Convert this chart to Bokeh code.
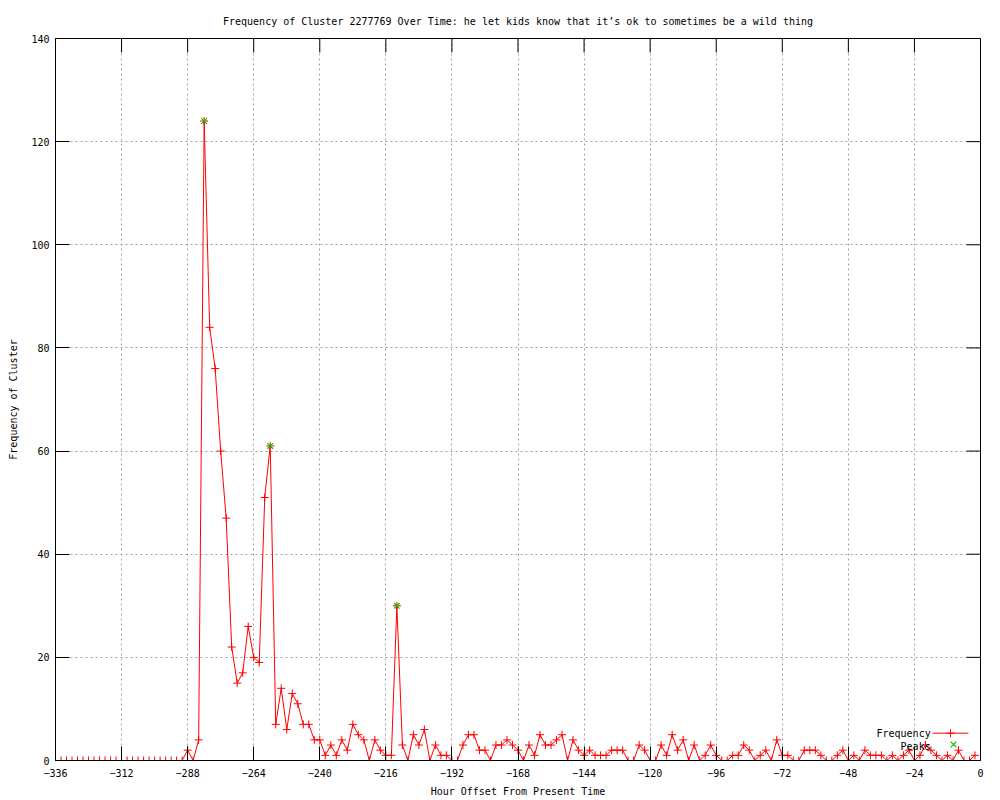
from bokeh.plotting import figure
from bokeh.models import Range1d, FixedTicker
from bokeh.core.properties import value
from bokeh.embed import file_html
from bokeh.resources import INLINE

TITLE = "Frequency of Cluster 2277769 Over Time: he let kids know that it\u2019s ok to sometimes be a wild thing"
X_LABEL = "Hour Offset From Present Time"
Y_LABEL = "Frequency of Cluster"

# hours (2-hour bins) from -336 to -2
hours = list(range(-336, 0, 2))
frequency = [
    0, 0, 0, 0, 0, 0, 0, 0, 0, 0, 0, 0,          # -336 .. -314
    0, 0, 0, 0, 0, 0, 0, 0, 0, 0, 0, 0,          # -312 .. -290
    2, 0, 4, 124, 84, 76, 60, 47, 22, 15, 17, 26,  # -288 .. -266
    20, 19, 51, 61, 7, 14, 6, 13, 11, 7, 7, 4,     # -264 .. -242
    4, 1, 3, 1, 4, 2, 7, 5, 4, 0, 4, 2,            # -240 .. -218
    1, 1, 30, 3, 0, 5, 3, 6, 0, 3, 1, 1,           # -216 .. -194
    0, 0, 3, 5, 5, 2, 2, 0, 3, 3, 4, 3,            # -192 .. -170
    2, 0, 3, 1, 5, 3, 3, 4, 5, 0, 4, 2,            # -168 .. -146
    1, 2, 1, 1, 1, 2, 2, 2, 0, 0, 3, 2,            # -144 .. -122
    0, 0, 3, 1, 5, 2, 4, 0, 3, 0, 1, 3,            # -120 .. -98
    1, 0, 0, 1, 1, 3, 2, 0, 1, 2, 0, 4,            # -96 .. -74
    1, 1, 0, 0, 2, 2, 2, 1, 0, 0, 1, 2,            # -72 .. -50
    0, 1, 0, 2, 1, 1, 1, 0, 1, 0, 1, 2,            # -48 .. -26
    0, 1, 3, 2, 1, 0, 1, 0, 2, 0, 0, 1,            # -24 .. -2
]
peak_hours = [-282, -258, -212]
peak_values = [124, 61, 30]

x_ticks = list(range(-336, 1, 24))
y_ticks = list(range(0, 141, 20))

X_MIN, X_MAX = -336, 0
Y_MIN, Y_MAX = 0, 140
FRAME_W, FRAME_H = 925, 722
TICK_PX = 14

FONT = "DejaVu Sans Mono"
FS = "10px"
RED = "#ff0000"
GREEN = "#00c000"

p = figure(frame_width=FRAME_W, frame_height=FRAME_H,
           x_range=Range1d(X_MIN, X_MAX), y_range=Range1d(Y_MIN, Y_MAX),
           output_backend="svg", toolbar_location=None,
           min_border_left=55, min_border_right=12,
           min_border_top=38, min_border_bottom=38,
           title=TITLE)
p.background_fill_color = "white"
p.border_fill_color = "white"
p.outline_line_color = "black"
p.outline_line_width = 1

p.title.align = "center"
p.title.text_font = FONT
p.title.text_font_size = FS
p.title.text_font_style = "normal"
p.title.text_color = "black"
p.title.standoff = 24

for ax in (p.xaxis[0], p.yaxis[0]):
    ax.major_tick_in = TICK_PX
    ax.major_tick_out = 0
    ax.minor_tick_line_color = None
    ax.axis_line_color = "black"
    ax.major_tick_line_color = "black"
    ax.major_label_text_font = FONT
    ax.major_label_text_font_size = FS
    ax.major_label_text_color = "black"
    ax.axis_label_text_font = FONT
    ax.axis_label_text_font_size = FS
    ax.axis_label_text_font_style = "normal"
    ax.axis_label_text_color = "black"

p.xaxis[0].ticker = FixedTicker(ticks=x_ticks)
p.yaxis[0].ticker = FixedTicker(ticks=y_ticks)
p.xaxis[0].axis_label = X_LABEL
p.yaxis[0].axis_label = Y_LABEL
p.xaxis[0].major_label_standoff = 8
p.xaxis[0].axis_label_standoff = 6
p.yaxis[0].major_label_standoff = 6
p.yaxis[0].axis_label_standoff = 9

p.xgrid.ticker = FixedTicker(ticks=x_ticks)
p.ygrid.ticker = FixedTicker(ticks=y_ticks)
for g in (p.xgrid[0], p.ygrid[0]):
    g.grid_line_color = "#a0a0a0"
    g.grid_line_dash = "2 3"
    g.grid_line_width = 1

# mirrored inward ticks on top and right border (gnuplot style)
top_len = TICK_PX * (Y_MAX - Y_MIN) / FRAME_H
right_len = TICK_PX * (X_MAX - X_MIN) / FRAME_W
p.segment(x0=x_ticks, x1=x_ticks, y0=[Y_MAX] * len(x_ticks), y1=[Y_MAX - top_len] * len(x_ticks),
          line_color="black", line_width=1)
p.segment(x0=[X_MAX] * len(y_ticks), x1=[X_MAX - right_len] * len(y_ticks), y0=y_ticks, y1=y_ticks,
          line_color="black", line_width=1)

p.line(hours, frequency, line_color=RED, line_width=1)
p.scatter(hours, frequency, marker="cross", size=8, line_color=RED, line_width=1)
p.scatter(peak_hours, peak_values, marker="x", size=8, line_color=GREEN, line_width=1.2)

# legend (gnuplot style: text then sample)
LEG_TEXT_X = -18.1
LEG_FREQ_Y = 5.3
LEG_PEAK_Y = 2.8
LEG_LINE_X = [-17.4, -4.4]
LEG_MARK_X = -10.9
LEG_PEAK_MARK_X = -9.8
p.text(x=[LEG_TEXT_X, LEG_TEXT_X], y=[LEG_FREQ_Y, LEG_PEAK_Y], text=["Frequency", "Peaks"],
       text_align="right", text_baseline="middle", text_font=value(FONT),
       text_font_size=value(FS), text_color="black")
p.line(LEG_LINE_X, [LEG_FREQ_Y, LEG_FREQ_Y], line_color=RED, line_width=1)
p.scatter([LEG_MARK_X], [LEG_FREQ_Y], marker="cross", size=8, line_color=RED)
p.scatter([LEG_PEAK_MARK_X], [LEG_PEAK_Y + 0.3], marker="x", size=8, line_color=GREEN, line_width=1.2)

open("out.html", "w").write(file_html(p, INLINE))
